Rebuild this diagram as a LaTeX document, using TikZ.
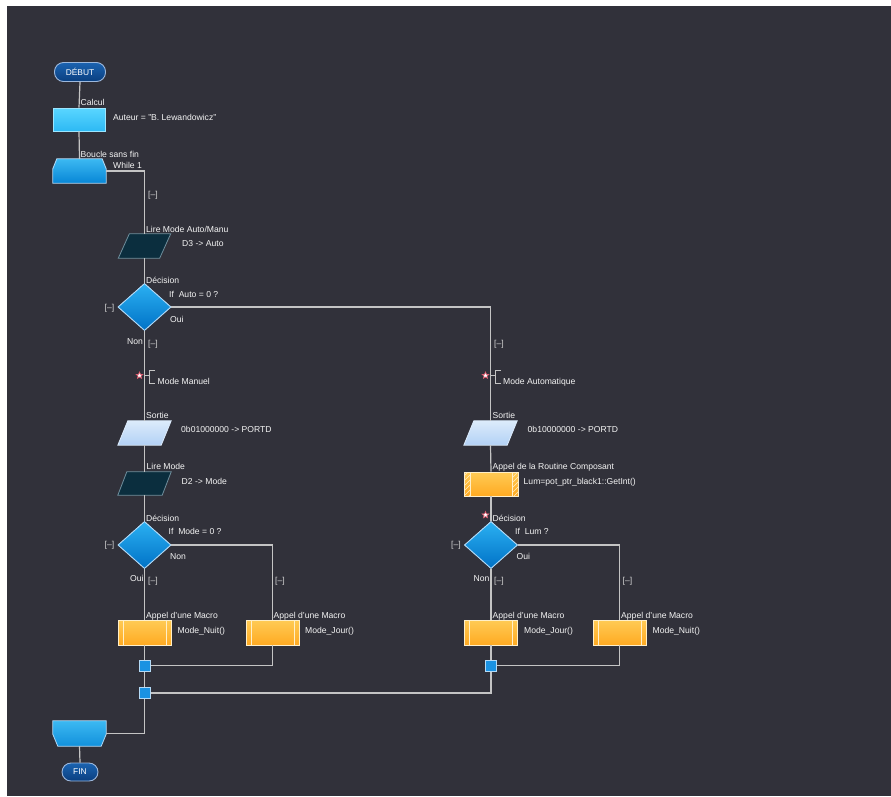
\documentclass[tikz,border=0pt]{standalone}
\usepackage{fontspec}
\setmainfont{Liberation Sans}
\usetikzlibrary{shapes.geometric,calc}
\definecolor{bg}{HTML}{31313A}
\definecolor{txt}{HTML}{F4F4F4}
\definecolor{brkc}{HTML}{D4D4D4}
\definecolor{linec}{HTML}{C4C4C4}
\definecolor{pilltop}{HTML}{1B63B0}
\definecolor{pillbot}{HTML}{0A3F80}
\definecolor{pillb}{HTML}{9DB8DC}
\definecolor{calctop}{HTML}{5AD6FF}
\definecolor{calcbot}{HTML}{2DB9F4}
\definecolor{looptop}{HTML}{3CB9F2}
\definecolor{loopbot}{HTML}{0786D6}
\definecolor{darkpar}{HTML}{0B2E3E}
\definecolor{darkparb}{HTML}{6F8E9C}
\definecolor{lightpartop}{HTML}{DCEBFB}
\definecolor{lightparbot}{HTML}{B2D1F5}
\definecolor{diatop}{HTML}{2BB0F2}
\definecolor{diabot}{HTML}{0072C6}
\definecolor{diab}{HTML}{B4DAF6}
\definecolor{ortop}{HTML}{FFCB55}
\definecolor{orbot}{HTML}{FFAA22}
\definecolor{orb}{HTML}{FFEFC8}
\definecolor{jfill}{HTML}{1A92E2}
\definecolor{starc}{HTML}{E0566A}
\begin{document}
\begin{tikzpicture}[x=1pt,y=-1pt,
  font=\fontsize{8.6}{10}\selectfont,
  lbl/.style={anchor=base west, inner sep=0, text=txt},
  brk/.style={anchor=west, inner sep=0, text=brkc},
  conn/.style={draw=linec, line width=1.2pt},
  pill/.style={rectangle, rounded corners=9pt, inner sep=0, draw=pillb, line width=0.9pt,
    top color=pilltop, bottom color=pillbot, text=white, font=\fontsize{8.4}{9}\selectfont},
  frame/.style={rectangle, inner sep=0},
  dia/.style={diamond, inner sep=0, minimum width=53pt, minimum height=47pt,
    draw=diab, line width=0.8pt, top color=diatop, bottom color=diabot},
  macro/.style={rectangle, inner sep=0, minimum width=53pt, minimum height=25pt,
    draw=orb, line width=0.8pt, top color=ortop, bottom color=orbot,
    path picture={
      \draw[orb, line width=0.8pt] ([xshift=5pt]path picture bounding box.north west) -- ([xshift=5pt]path picture bounding box.south west);
      \draw[orb, line width=0.8pt] ([xshift=-5pt]path picture bounding box.north east) -- ([xshift=-5pt]path picture bounding box.south east);}},
  junc/.style={rectangle, inner sep=0, minimum size=11pt, draw=diab, line width=0.8pt, fill=jfill},
  darkpar/.style={fill=darkpar, draw=darkparb, line width=0.8pt},
  lightpar/.style={top color=lightpartop, bottom color=lightparbot, draw=lightpartop, line width=0.8pt},
  starmark/.style={star, star points=5, star point ratio=2.3, minimum size=7pt, inner sep=0,
    fill=white, draw=starc, line width=0.6pt},
  brkline/.style={draw=linec, line width=0.8pt}
]
\useasboundingbox (0,0) rectangle (891,796);
\fill[white] (0,0) rectangle (891,796);
\fill[bg] (7,6) rectangle (891,796);

% ---------- shape frames ----------
\node[pill, minimum width=51pt, minimum height=19pt] (debut) at (80,72) {DÉBUT};
\node[frame, minimum width=52pt, minimum height=23pt, draw=calctop!60!white, line width=0.8pt,
  top color=calctop, bottom color=calcbot] (calc) at (79,119.5) {};
\node[frame, minimum width=53pt, minimum height=24pt] (loop) at (79.5,171) {};
\node[frame, minimum width=52pt, minimum height=24pt] (lireA) at (144.5,246) {};
\node[dia] (dec1) at (144.5,307) {};
\node[frame, minimum width=53pt, minimum height=24pt] (sortL) at (144.5,433) {};
\node[frame, minimum width=53pt, minimum height=23pt] (lireM) at (144.5,483.5) {};
\node[dia] (dec2) at (144.5,545) {};
\node[macro] (macL1) at (144.5,632.5) {};
\node[macro] (macL2) at (272.5,632.5) {};
\node[junc] (j1) at (144.5,665.5) {};
\node[junc] (j2) at (144.5,693) {};
\node[frame, minimum width=53pt, minimum height=24pt] (sortR) at (490.5,433) {};
\node[frame, minimum width=54pt, minimum height=24pt, draw=orb, line width=0.8pt,
  top color=ortop, bottom color=orbot] (rout) at (491,484) {};
\node[dia] (dec3) at (491,545) {};
\node[macro] (macR1) at (491,632.5) {};
\node[macro] (macR2) at (619.5,632.5) {};
\node[junc] (j3) at (491,665.5) {};
\node[frame, minimum width=53pt, minimum height=25pt] (lend) at (79.5,733.5) {};
\node[pill, minimum width=36pt, minimum height=18pt] (fin) at (80,772) {FIN};

% ---------- custom outlines ----------
\shadedraw[top color=looptop, bottom color=loopbot, draw=diab, line width=0.8pt]
  (loop.south west) -- ($(loop.north west)+(0,10)$) -- ($(loop.north west)+(4,0)$)
  -- ($(loop.north east)+(-4,0)$) -- ($(loop.north east)+(0,10)$) -- (loop.south east) -- cycle;
\shadedraw[top color=looptop, bottom color=loopbot!80!looptop, draw=diab, line width=0.8pt]
  (lend.north west) -- ($(lend.south west)+(0,-12)$) -- ($(lend.south west)+(5,0)$)
  -- ($(lend.south east)+(-5,0)$) -- ($(lend.south east)+(0,-12)$) -- (lend.north east) -- cycle;
\filldraw[darkpar]
  ($(lireA.north west)+(11,0)$) -- (lireA.north east) -- ($(lireA.south east)+(-11,0)$) -- (lireA.south west) -- cycle;
\filldraw[darkpar]
  ($(lireM.north west)+(9,0)$) -- (lireM.north east) -- ($(lireM.south east)+(-9,0)$) -- (lireM.south west) -- cycle;
\shadedraw[lightpar]
  ($(sortL.north west)+(10,0)$) -- (sortL.north east) -- ($(sortL.south east)+(-10,0)$) -- (sortL.south west) -- cycle;
\shadedraw[lightpar]
  ($(sortR.north west)+(10,0)$) -- (sortR.north east) -- ($(sortR.south east)+(-10,0)$) -- (sortR.south west) -- cycle;

% routine hatched ends
\begin{scope}
  \clip (464,472) rectangle (470,496) (512,472) rectangle (518,496);
  \foreach \k in {430,435,...,520} \draw[orb, line width=0.6pt] (\k,500) -- ({\k+28},472);
\end{scope}
\draw[orb, line width=0.8pt] (470,472) -- (470,496) (512,472) -- (512,496);

% ---------- connectors ----------
\draw[conn] (debut.south) -- (calc.north);
\draw[conn] (calc.south) -- (loop.north);
\draw[conn] (loop.east) -| (lireA.north);
\draw[conn] (lireA.south) -- (dec1.north);
\draw[conn] (dec1.south) -- (sortL.north);
\draw[conn] (dec1.east) -| (sortR.north);
\draw[conn] (sortL.south) -- (lireM.north);
\draw[conn] (lireM.south) -- (dec2.north);
\draw[conn] (dec2.south) -- (macL1.north);
\draw[conn] (dec2.east) -| (macL2.north);
\draw[conn] (macL1.south) -- (j1.north);
\draw[conn] (macL2.south) |- (j1.east);
\draw[conn] (j1.south) -- (j2.north);
\draw[conn] (j2.south) |- (lend.east);
\draw[conn] (lend.south) -- (fin.north);
\draw[conn] (sortR.south) -- (rout.north);
\draw[conn] (rout.south) -- (dec3.north);
\draw[conn] (dec3.south) -- (macR1.north);
\draw[conn] (dec3.east) -| (macR2.north);
\draw[conn] (macR1.south) -- (j3.north);
\draw[conn] (macR2.south) |- (j3.east);
\draw[conn] (j3.south) |- (j2.east);

% redraw shapes over connectors
\node[dia] at (dec1) {};
\node[dia] at (dec2) {};
\node[dia] at (dec3) {};
\node[junc] at (j1) {};
\node[junc] at (j2) {};
\node[junc] at (j3) {};

% ---------- comment markers ----------
\node[starmark] (st1) at (139.5,375.5) {};
\node[starmark] (st2) at (485.5,375.5) {};
\node[starmark] (st3) at (485.5,515) {};
\draw[brkline] (144.5,375.5) -- (149.5,375.5);
\draw[brkline] (155,370) -- (149.5,370) -- (149.5,383) -- (155,383);
\draw[brkline] (490.5,375.5) -- (495.5,375.5);
\draw[brkline] (501,370) -- (495.5,370) -- (495.5,383) -- (501,383);

% ---------- texts ----------
\node[lbl] (t1) at (80.5,105) {Calcul};
\node[lbl] (t2) at (113,120.5) {Auteur = "B. Lewandowicz"};
\node[lbl] (t3) at (80.5,157) {Boucle sans fin};
\node[lbl] (t4) at (113,168.5) {While 1};
\node[brk] (b1) at (148,195) {[–]};
\node[lbl] (t5) at (146,232) {Lire Mode Auto/Manu};
\node[lbl] (t6) at (182,246) {D3 -> Auto};
\node[lbl] (t7) at (146,283) {Décision};
\node[lbl] (t8) at (169,297) {If\ \ Auto = 0 ?};
\node[lbl] (t9) at (170,322) {Oui};
\node[brk] (b2) at (104.5,308) {[–]};
\node[lbl] (t10) at (127,344) {Non};
\node[brk] (b3) at (148,344) {[–]};
\node[lbl] (t11) at (157.5,384.5) {Mode Manuel};
\node[lbl] (t12) at (146,418.5) {Sortie};
\node[lbl] (t13) at (181,432.5) {0b01000000 -> PORTD};
\node[lbl] (t14) at (146.5,469) {Lire Mode};
\node[lbl] (t15) at (181.5,484) {D2 -> Mode};
\node[lbl] (t16) at (146,521) {Décision};
\node[lbl] (t17) at (168.5,534.5) {If\ \ Mode = 0 ?};
\node[lbl] (t18) at (170,559) {Non};
\node[brk] (b4) at (104.5,545.5) {[–]};
\node[lbl] (t19) at (130,581) {Oui};
\node[brk] (b5) at (148,581.5) {[–]};
\node[brk] (b6) at (275,581.5) {[–]};
\node[lbl] (t20) at (146,618) {Appel d'une Macro};
\node[lbl] (t21) at (273.5,618) {Appel d'une Macro};
\node[lbl] (t22) at (177.5,633.5) {Mode\_Nuit()};
\node[lbl] (t23) at (305,633.5) {Mode\_Jour()};

\node[brk] (b7) at (494,344) {[–]};
\node[lbl] (t24) at (503,384.5) {Mode Automatique};
\node[lbl] (t25) at (492.5,418.5) {Sortie};
\node[lbl] (t26) at (527.5,432.5) {0b10000000 -> PORTD};
\node[lbl] (t27) at (492.5,469) {Appel de la Routine Composant};
\node[lbl] (t28) at (523.5,484.5) {Lum=pot\_ptr\_black1::GetInt()};
\node[lbl] (t29) at (492.5,521) {Décision};
\node[lbl] (t30) at (515,534.5) {If\ \ Lum ?};
\node[lbl] (t31) at (516.5,559) {Oui};
\node[brk] (b8) at (451,545.5) {[–]};
\node[lbl] (t32) at (473.5,581) {Non};
\node[brk] (b9) at (494,581.5) {[–]};
\node[brk] (b10) at (622.5,581.5) {[–]};
\node[lbl] (t33) at (492.5,618) {Appel d'une Macro};
\node[lbl] (t34) at (621,618) {Appel d'une Macro};
\node[lbl] (t35) at (524,633.5) {Mode\_Jour()};
\node[lbl] (t36) at (652.5,633.5) {Mode\_Nuit()};
\end{tikzpicture}
\end{document}
